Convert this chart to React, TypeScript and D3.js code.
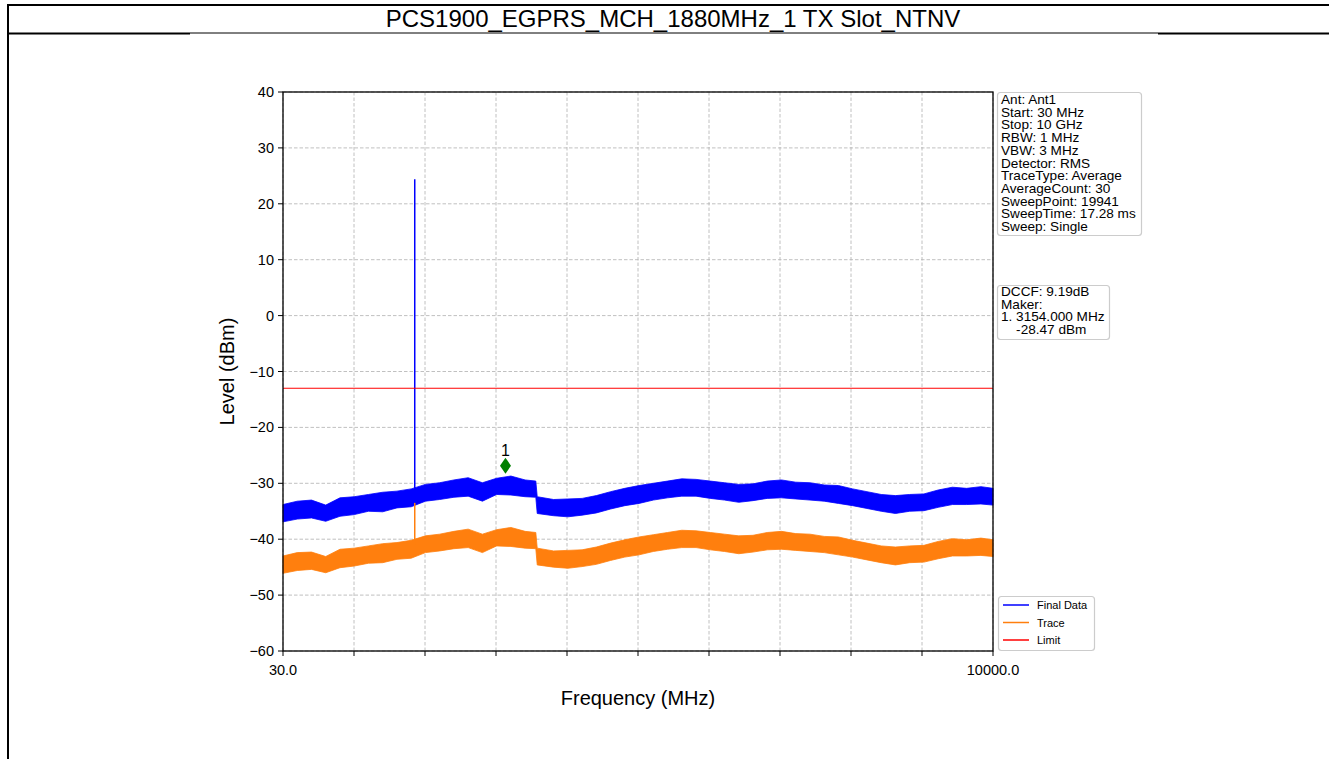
import React from "react";
import * as d3 from "d3";

// ---------- data ----------
const titleText = "PCS1900_EGPRS_MCH_1880MHz_1 TX Slot_NTNV";
const freqMHz = [30, 230, 430, 630, 830, 1030, 1230, 1430, 1630, 1830, 2030, 2230, 2430, 2630, 2830, 3030, 3230, 3430, 3580, 3600, 3830, 4030, 4230, 4430, 4630, 4830, 5030, 5230, 5430, 5630, 5830, 6030, 6230, 6430, 6630, 6830, 7030, 7230, 7430, 7630, 7830, 8030, 8230, 8430, 8630, 8830, 9030, 9230, 9430, 9630, 9830, 10000];
const finalHigh = [-33.8, -33.2, -33.0, -33.9, -32.6, -32.4, -32.0, -31.6, -31.4, -31.0, -30.2, -29.9, -29.4, -29.0, -29.9, -29.1, -28.7, -29.4, -29.6, -32.4, -32.9, -32.8, -32.7, -32.2, -31.5, -30.9, -30.4, -30.0, -29.6, -29.2, -29.3, -29.6, -29.9, -30.2, -30.1, -29.6, -29.4, -29.8, -29.9, -30.3, -30.4, -31.0, -31.5, -32.0, -32.2, -32.0, -31.9, -31.2, -30.7, -30.9, -30.6, -30.9];
const finalLow = [-36.9, -36.4, -36.2, -36.8, -35.9, -35.6, -35.0, -35.1, -34.4, -34.2, -33.2, -32.9, -32.5, -32.3, -33.2, -32.0, -32.1, -32.4, -32.5, -35.4, -35.8, -36.0, -35.7, -35.3, -34.6, -34.0, -33.6, -33.0, -32.6, -32.3, -32.3, -32.7, -33.0, -33.4, -33.1, -32.7, -32.6, -32.8, -33.0, -33.2, -33.6, -34.0, -34.5, -35.0, -35.4, -35.0, -34.9, -34.3, -33.8, -33.8, -33.7, -33.9];
const traceHigh = [-43.0, -42.4, -42.3, -43.1, -41.8, -41.6, -41.2, -40.8, -40.6, -40.2, -39.4, -39.1, -38.6, -38.2, -39.1, -38.3, -37.9, -38.6, -38.8, -41.6, -42.1, -42.0, -41.9, -41.4, -40.7, -40.1, -39.6, -39.2, -38.8, -38.4, -38.5, -38.8, -39.1, -39.4, -39.3, -38.8, -38.6, -39.0, -39.1, -39.5, -39.6, -40.2, -40.7, -41.2, -41.4, -41.2, -41.1, -40.4, -39.9, -40.1, -39.8, -40.1];
const traceLow = [-46.1, -45.6, -45.4, -46.0, -45.1, -44.8, -44.3, -44.2, -43.6, -43.4, -42.4, -42.1, -41.7, -41.5, -42.4, -41.2, -41.3, -41.6, -41.7, -44.6, -45.0, -45.2, -44.9, -44.5, -43.8, -43.2, -42.8, -42.2, -41.8, -41.5, -41.5, -41.9, -42.2, -42.6, -42.3, -41.9, -41.8, -42.0, -42.2, -42.4, -42.8, -43.2, -43.7, -44.2, -44.6, -44.2, -44.1, -43.5, -43.0, -43.0, -42.9, -43.1];
const spikeFreq = 1880;
const spikeFinal = [-32.5, 24.4];
const spikeTrace = [-41.0, -33.5];
const limitLevel = -13;
const markerFreq = 3154;
const markerLevel = -28.47;
const markerLabel = "1";
const yTickValues = [-60, -50, -40, -30, -20, -10, 0, 10, 20, 30, 40];
const xStart = 30;
const xStop = 10000;
const xDivisions = 10;
const xTickLabels = ["30.0", "10000.0"];
const infoLines = ["Ant: Ant1", "Start: 30 MHz", "Stop: 10 GHz", "RBW: 1 MHz", "VBW: 3 MHz", "Detector: RMS", "TraceType: Average", "AverageCount: 30", "SweepPoint: 19941", "SweepTime: 17.28 ms", "Sweep: Single"];
const markerLines = ["DCCF: 9.19dB", "Maker:", "1. 3154.000 MHz", "    -28.47 dBm"];
const legendNames = ["Final Data", "Trace", "Limit"];
const legendColors = ["#0000ff", "#ff7f0e", "#ff0000"];

// ---------- layout ----------
const W = 1329, H = 759;
const PL = 283, PR = 993, PT = 92, PB = 651;
const FONT = "'Liberation Sans', Arial, Helvetica, sans-serif";

export default function App() {
  const x = d3.scaleLinear().domain([xStart, xStop]).range([PL, PR]);
  const y = d3.scaleLinear().domain([-60, 40]).range([PB, PT]);
  const xTicks = d3.range(xDivisions + 1).map((i) => xStart + (i * (xStop - xStart)) / xDivisions);

  const finalRows = freqMHz.map((f, i) => ({ f, hi: finalHigh[i], lo: finalLow[i] }));
  const traceRows = freqMHz.map((f, i) => ({ f, hi: traceHigh[i], lo: traceLow[i] }));
  const band = d3
    .area<{ f: number; hi: number; lo: number }>()
    .x((d) => x(d.f))
    .y0((d) => y(d.lo))
    .y1((d) => y(d.hi));

  const mx = x(markerFreq);
  const my = y(markerLevel) - 9;

  return (
    <svg
      width={W}
      height={H}
      style={{ position: "absolute", left: 0, top: 0, background: "#fff" }}
      fontFamily={FONT}
    >
      {/* outer frame */}
      <line x1={8} y1={5} x2={W} y2={5} stroke="#000" strokeWidth={2} />
      <line x1={8} y1={4} x2={8} y2={H} stroke="#000" strokeWidth={2} />
      <line x1={8} y1={33.5} x2={190} y2={33.5} stroke="#000" strokeWidth={2} />
      <line x1={190} y1={33} x2={1158} y2={33} stroke="#000" strokeWidth={1} />
      <line x1={1158} y1={33.5} x2={W} y2={33.5} stroke="#000" strokeWidth={2} />
      <text x={673} y={27} textAnchor="middle" fontSize={24} fill="#000">
        {titleText}
      </text>

      {/* grid */}
      {xTicks.map((t, i) => (
        <line key={"gx" + i} x1={x(t)} x2={x(t)} y1={PT} y2={PB} stroke="#b0b0b0" strokeWidth={0.8} strokeDasharray="3.5,2" />
      ))}
      {yTickValues.map((t) => (
        <line key={"gy" + t} x1={PL} x2={PR} y1={y(t)} y2={y(t)} stroke="#b0b0b0" strokeWidth={0.8} strokeDasharray="3.5,2" />
      ))}

      {/* traces */}
      <path d={band(finalRows) || ""} fill="#0000ff" stroke="#0000ff" strokeWidth={0.8} />
      <line x1={x(spikeFreq)} x2={x(spikeFreq)} y1={y(spikeFinal[0])} y2={y(spikeFinal[1])} stroke="#0000ff" strokeWidth={1.5} />
      <path d={band(traceRows) || ""} fill="#ff7f0e" stroke="#ff7f0e" strokeWidth={0.8} />
      <line x1={x(spikeFreq)} x2={x(spikeFreq)} y1={y(spikeTrace[0])} y2={y(spikeTrace[1])} stroke="#ff7f0e" strokeWidth={1.5} />
      <line x1={PL} x2={PR} y1={y(limitLevel)} y2={y(limitLevel)} stroke="#ff0000" strokeWidth={1.2} />

      {/* marker */}
      <path d={`M${mx},${my - 8} L${mx + 5.5},${my} L${mx},${my + 8} L${mx - 5.5},${my} Z`} fill="#008000" />
      <text x={mx} y={my - 10} textAnchor="middle" fontSize={16} fill="#000">
        {markerLabel}
      </text>

      {/* axes frame */}
      <rect x={PL} y={PT} width={PR - PL} height={PB - PT} fill="none" stroke="#000" strokeWidth={1.3} />
      {yTickValues.map((t) => (
        <g key={"yt" + t}>
          <line x1={PL - 5} x2={PL} y1={y(t)} y2={y(t)} stroke="#000" strokeWidth={1} />
          <text x={PL - 9} y={y(t) + 5} textAnchor="end" fontSize={14.5} fill="#000">
            {t < 0 ? "\u2212" + Math.abs(t) : String(t)}
          </text>
        </g>
      ))}
      {xTicks.map((t, i) => (
        <line key={"xt" + i} x1={x(t)} x2={x(t)} y1={PB} y2={PB + 5} stroke="#000" strokeWidth={1} />
      ))}
      <text x={PL} y={675} textAnchor="middle" fontSize={14.5} fill="#000">{xTickLabels[0]}</text>
      <text x={PR} y={675} textAnchor="middle" fontSize={14.5} fill="#000">{xTickLabels[1]}</text>
      <text x={(PL + PR) / 2} y={705} textAnchor="middle" fontSize={20} fill="#000">
        Frequency (MHz)
      </text>
      <text transform={`translate(234,${(PT + PB) / 2}) rotate(-90)`} textAnchor="middle" fontSize={20} fill="#000">
        Level (dBm)
      </text>

      {/* info box */}
      <rect x={997.5} y={92.5} width={144} height={143} rx={3} fill="#fff" stroke="#cccccc" strokeWidth={1.2} />
      {infoLines.map((s, i) => (
        <text key={"il" + i} x={1001} y={104 + i * 12.7} fontSize={13.6} fill="#000">
          {s}
        </text>
      ))}
      <rect x={997.5} y={285.5} width={112} height={54} rx={3} fill="#fff" stroke="#cccccc" strokeWidth={1.2} />
      {markerLines.map((s, i) => (
        <text key={"ml" + i} x={1001} y={296 + i * 12.7} fontSize={13.6} fill="#000" style={{ whiteSpace: "pre" }}>
          {s}
        </text>
      ))}

      {/* legend */}
      <rect x={998.5} y={596.5} width={96} height={54} rx={3} fill="#fff" stroke="#cccccc" strokeWidth={1.2} />
      {legendNames.map((n, i) => (
        <g key={"lg" + i}>
          <line x1={1003} x2={1029} y1={605 + i * 17.5} y2={605 + i * 17.5} stroke={legendColors[i]} strokeWidth={1.5} />
          <text x={1037} y={609 + i * 17.5} fontSize={11} fill="#000">
            {n}
          </text>
        </g>
      ))}
    </svg>
  );
}
